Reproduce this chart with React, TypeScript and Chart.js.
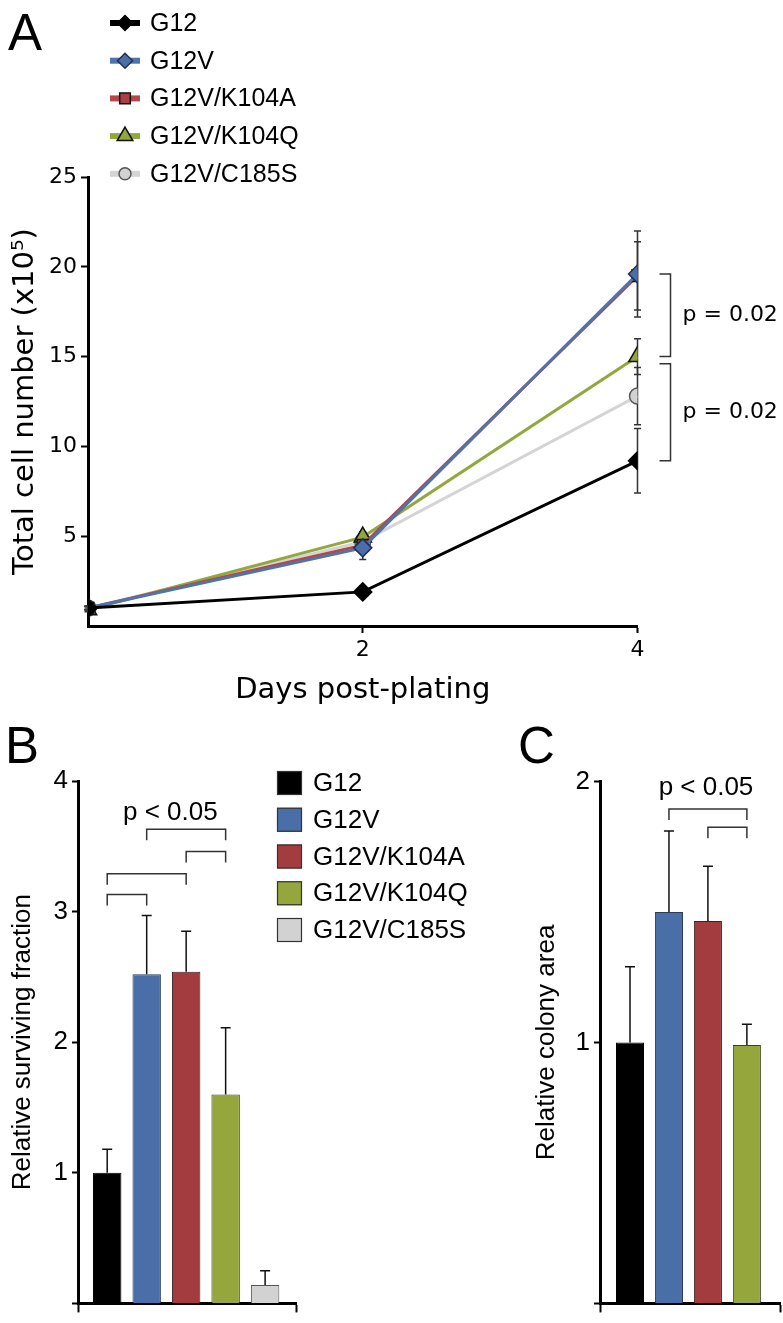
import React, { useEffect, useRef } from 'react';
import { Chart, registerables } from 'chart.js';

Chart.register(...registerables);

// ---------- Panel A: growth curves ----------
const days = [0, 2, 4];
const seriesNames = ['G12', 'G12V', 'G12V/K104A', 'G12V/K104Q', 'G12V/C185S'];
const g12Counts = [1.0, 1.9, 9.2];
const g12vCounts = [1.0, 4.35, 19.6];
const k104aCounts = [1.0, 4.5, 19.5];
const k104qCounts = [0.9, 4.95, 15.0];
const c185sCounts = [1.0, 4.7, 12.8];
const g12CountErr = [0.1, 0.2, 1.8];
const g12vCountErr = [0.1, 0.65, 2.4];
const k104aCountErr = [0.1, 0.4, 1.9];
const k104qCountErr = [0.1, 0.3, 1.0];
const c185sCountErr = [0.1, 0.3, 1.6];
const growthYTicks = [5, 10, 15, 20, 25];
const growthXTicks = [2, 4];
const growthBrackets = [
  { top: 19.6, bottom: 15.0, label: 'p = 0.02' },
  { top: 14.6, bottom: 9.2, label: 'p = 0.02' },
];

// ---------- Panel B: surviving fraction ----------
const survivalValues = [1.0, 2.52, 2.54, 1.6, 0.14];
const survivalErr = [0.18, 0.45, 0.31, 0.51, 0.11];
const survivalBrackets = [
  { from: 1, to: 3, y: 3.63 },
  { from: 2, to: 3, y: 3.46 },
  { from: 0, to: 2, y: 3.29 },
  { from: 0, to: 1, y: 3.13 },
];
const survivalP = { x: 1.6, y: 3.76, text: 'p < 0.05' };

// ---------- Panel C: colony area ----------
const colonyValues = [1.0, 1.5, 1.465, 0.99];
const colonyErr = [0.29, 0.31, 0.21, 0.08];
const colonyBrackets = [
  { from: 1, to: 3, y: 1.895 },
  { from: 2, to: 3, y: 1.825 },
];
const colonyP = { x: 1.95, y: 1.975, text: 'p < 0.05' };

// ---------- styles ----------
const lineColors = ['#000000', '#4f73ad', '#b4474a', '#93a83c', '#d4d4d4'];
const markerFills = ['#000000', '#4a6ea8', '#a93f42', '#93a63b', '#d2d2d2'];
const markerEdges = ['#000000', '#1f3050', '#111111', '#111111', '#555555'];
const markerShapes = ['rectRot', 'rectRot', 'rect', 'triangle', 'circle'];
const markerRadii = [9, 9, 8, 10, 8];
const legendRadii = [7.5, 7.5, 7.5, 9, 6];
const barFills = ['#000000', '#4a6ea8', '#a33c3e', '#94a63c', '#d2d2d2'];
const barEdges = ['#000000', '#2b3b55', '#3a2222', '#3b4220', '#555555'];

const FONT_A = 'DejaVu Sans';
const FONT_B = 'Liberation Sans';

function drawMarker(ctx, shape, x, y, r, fill, edge, bw) {
  ctx.save();
  ctx.beginPath();
  if (shape === 'rectRot') {
    ctx.moveTo(x - r, y);
    ctx.lineTo(x, y - r);
    ctx.lineTo(x + r, y);
    ctx.lineTo(x, y + r);
    ctx.closePath();
  } else if (shape === 'rect') {
    const s = r * Math.SQRT1_2;
    ctx.rect(x - s, y - s, 2 * s, 2 * s);
  } else if (shape === 'triangle') {
    const a = (2 * Math.PI) / 3;
    ctx.moveTo(x, y - r);
    ctx.lineTo(x + Math.sin(a) * r, y - Math.cos(a) * r);
    ctx.lineTo(x + Math.sin(2 * a) * r, y - Math.cos(2 * a) * r);
    ctx.closePath();
  } else {
    ctx.arc(x, y, r, 0, Math.PI * 2);
  }
  ctx.fillStyle = fill;
  ctx.fill();
  ctx.lineWidth = bw;
  ctx.strokeStyle = edge;
  ctx.stroke();
  ctx.restore();
}

function letterPlugin(letter, x, y) {
  return {
    id: 'letter' + letter,
    afterDraw(chart) {
      const ctx = chart.ctx;
      ctx.save();
      ctx.font = '51px "Liberation Sans"';
      ctx.fillStyle = '#000';
      ctx.textBaseline = 'alphabetic';
      ctx.textAlign = 'left';
      ctx.fillText(letter, x, y);
      ctx.restore();
    },
  };
}

const growthErrorPlugin = {
  id: 'growthErrors',
  beforeDatasetsDraw(chart) {
    const { ctx, scales } = chart;
    const xs = scales.x;
    const ys = scales.y;
    ctx.save();
    ctx.strokeStyle = '#333';
    ctx.lineWidth = 1.5;
    chart.data.datasets.forEach((ds) => {
      ds.data.forEach((p, j) => {
        const e = ds.errors[j];
        const px = xs.getPixelForValue(p.x);
        const t = ys.getPixelForValue(p.y + e);
        const b = ys.getPixelForValue(p.y - e);
        ctx.beginPath();
        ctx.moveTo(px, t);
        ctx.lineTo(px, b);
        ctx.moveTo(px - 3.5, t);
        ctx.lineTo(px + 3.5, t);
        ctx.moveTo(px - 3.5, b);
        ctx.lineTo(px + 3.5, b);
        ctx.stroke();
      });
    });
    ctx.restore();
  },
};

const growthBracketPlugin = {
  id: 'growthBrackets',
  afterDraw(chart) {
    const { ctx, scales } = chart;
    const xv = scales.x.getPixelForValue(days[days.length - 1]);
    const x0 = xv + 22;
    const x1 = xv + 33;
    ctx.save();
    ctx.strokeStyle = '#333';
    ctx.lineWidth = 1.5;
    ctx.fillStyle = '#000';
    ctx.font = `22px "${FONT_A}"`;
    ctx.textBaseline = 'middle';
    ctx.textAlign = 'left';
    growthBrackets.forEach((b) => {
      const yt = scales.y.getPixelForValue(b.top);
      const yb = scales.y.getPixelForValue(b.bottom);
      ctx.beginPath();
      ctx.moveTo(x0, yt);
      ctx.lineTo(x1, yt);
      ctx.lineTo(x1, yb);
      ctx.lineTo(x0, yb);
      ctx.stroke();
      ctx.fillText(b.label, x1 + 12, (yt + yb) / 2);
    });
    ctx.restore();
  },
};

const growthLegendPlugin = {
  id: 'growthLegend',
  afterDraw(chart) {
    const ctx = chart.ctx;
    ctx.save();
    chart.data.datasets.forEach((ds, i) => {
      const y = 23 + i * 37.7;
      ctx.strokeStyle = ds.borderColor;
      ctx.lineWidth = 6;
      ctx.beginPath();
      ctx.moveTo(110, y);
      ctx.lineTo(140, y);
      ctx.stroke();
      drawMarker(ctx, ds.pointStyle, 125, y, ds.legendRadius, ds.pointBackgroundColor, ds.pointBorderColor, 1.5);
      ctx.fillStyle = '#000';
      ctx.font = `25px "${FONT_B}"`;
      ctx.textBaseline = 'middle';
      ctx.textAlign = 'left';
      ctx.fillText(ds.label, 150, y + 1);
    });
    ctx.restore();
  },
};

const growthCounts = [g12Counts, g12vCounts, k104aCounts, k104qCounts, c185sCounts];
const growthErrs = [g12CountErr, g12vCountErr, k104aCountErr, k104qCountErr, c185sCountErr];

function makeGrowth() {
  return {
    type: 'line',
    data: {
      datasets: seriesNames.map((name, i) => ({
        label: name,
        data: days.map((d, j) => ({ x: d, y: growthCounts[i][j] })),
        errors: growthErrs[i],
        borderColor: lineColors[i],
        backgroundColor: markerFills[i],
        pointBackgroundColor: markerFills[i],
        pointBorderColor: markerEdges[i],
        pointBorderWidth: 1.5,
        pointStyle: markerShapes[i],
        pointRadius: markerRadii[i],
        legendRadius: legendRadii[i],
        borderWidth: 3,
        tension: 0,
      })),
    },
    options: {
      responsive: false,
      animation: false,
      layout: { padding: { top: 177, right: 783 - 637.5, left: 0, bottom: 0 } },
      plugins: { legend: { display: false }, tooltip: { enabled: false } },
      scales: {
        x: {
          type: 'linear',
          min: 0,
          max: 4,
          afterBuildTicks: (s) => {
            s.ticks = growthXTicks.map((v) => ({ value: v }));
          },
          ticks: {
            callback: (v) => String(v),
            font: { family: FONT_A, size: 22 },
            color: '#000',
            padding: 4,
            maxRotation: 0,
          },
          grid: { drawOnChartArea: false, tickLength: 7, tickWidth: 2, tickColor: '#000' },
          border: { color: '#000', width: 3 },
          title: {
            display: true,
            text: 'Days post-plating',
            font: { family: FONT_A, size: 29 },
            color: '#000',
            padding: { top: 0, bottom: 12 },
          },
          afterFit: (s) => {
            s.height = 94;
          },
        },
        y: {
          type: 'linear',
          min: 0,
          max: 25,
          afterBuildTicks: (s) => {
            s.ticks = growthYTicks.map((v) => ({ value: v }));
          },
          ticks: {
            callback: (v) => String(v),
            font: { family: FONT_A, size: 22 },
            color: '#000',
            padding: 4,
          },
          grid: { drawOnChartArea: false, tickLength: 7, tickWidth: 2, tickColor: '#000' },
          border: { color: '#000', width: 3 },
          title: {
            display: true,
            text: 'Total cell number (x10⁵)',
            font: { family: FONT_A, size: 29 },
            color: '#000',
            padding: { top: 8, bottom: 0 },
          },
          afterFit: (s) => {
            s.width = 88;
          },
        },
      },
    },
    plugins: [growthErrorPlugin, growthBracketPlugin, growthLegendPlugin, letterPlugin('A', 8, 50)],
  };
}

// ---------- bar helpers ----------
const barErrorPlugin = {
  id: 'barErrors',
  beforeDatasetsDraw(chart) {
    const { ctx, scales } = chart;
    ctx.save();
    ctx.strokeStyle = '#111';
    ctx.lineWidth = 1.5;
    chart.data.datasets.forEach((ds) => {
      ds.data.forEach((p, j) => {
        const px = scales.x.getPixelForValue(p.x);
        const b = scales.y.getPixelForValue(p.y);
        const t = scales.y.getPixelForValue(p.y + ds.errors[j]);
        ctx.beginPath();
        ctx.moveTo(px, b);
        ctx.lineTo(px, t);
        ctx.moveTo(px - 5, t);
        ctx.lineTo(px + 5, t);
        ctx.stroke();
      });
    });
    ctx.restore();
  },
};

function bracketPlugin(brackets, pText) {
  return {
    id: 'sigBrackets',
    afterDraw(chart) {
      const { ctx, scales } = chart;
      ctx.save();
      ctx.strokeStyle = '#333';
      ctx.lineWidth = 1.5;
      brackets.forEach((b) => {
        const xa = scales.x.getPixelForValue(b.from);
        const xb = scales.x.getPixelForValue(b.to);
        const y = scales.y.getPixelForValue(b.y);
        ctx.beginPath();
        ctx.moveTo(xa, y + 11);
        ctx.lineTo(xa, y);
        ctx.lineTo(xb, y);
        ctx.lineTo(xb, y + 11);
        ctx.stroke();
      });
      ctx.fillStyle = '#000';
      ctx.font = `26px "${FONT_B}"`;
      ctx.textAlign = 'center';
      ctx.textBaseline = 'middle';
      ctx.fillText(pText.text, scales.x.getPixelForValue(pText.x), scales.y.getPixelForValue(pText.y));
      ctx.restore();
    },
  };
}

const survivalLegendPlugin = {
  id: 'survivalLegend',
  afterDraw(chart) {
    const ctx = chart.ctx;
    const ds = chart.data.datasets[0];
    ctx.save();
    seriesNames.forEach((name, i) => {
      const top = 71 + i * 36.75;
      ctx.fillStyle = ds.backgroundColor[i];
      ctx.fillRect(277, top, 25, 24);
      ctx.strokeStyle = '#333';
      ctx.lineWidth = 1.2;
      ctx.strokeRect(277.5, top + 0.5, 24, 23);
      ctx.fillStyle = '#000';
      ctx.font = `26px "${FONT_B}"`;
      ctx.textAlign = 'left';
      ctx.textBaseline = 'middle';
      ctx.fillText(name, 313, top + 13);
    });
    ctx.restore();
  },
};

function makeBars({ values, errors, colors, edges, xMin, xMax, yMax, yAxisWidth, padTop, padRight, title, titlePad, extraPlugins }) {
  return {
    type: 'bar',
    data: {
      datasets: [
        {
          label: title,
          data: values.map((v, i) => ({ x: i, y: v })),
          errors,
          backgroundColor: colors,
          borderColor: edges,
          borderWidth: 1,
          borderSkipped: 'bottom',
          barPercentage: 0.72,
          categoryPercentage: 1,
        },
      ],
    },
    options: {
      responsive: false,
      animation: false,
      layout: { padding: { top: padTop, right: padRight, left: 0, bottom: 0 } },
      plugins: { legend: { display: false }, tooltip: { enabled: false } },
      scales: {
        x: {
          type: 'linear',
          min: xMin,
          max: xMax,
          offset: false,
          afterBuildTicks: (s) => {
            s.ticks = [{ value: xMin }, { value: xMax }];
          },
          ticks: { display: false },
          grid: { offset: false, drawOnChartArea: false, tickLength: 9, tickWidth: 2, tickColor: '#000' },
          border: { color: '#000', width: 3 },
          afterFit: (s) => {
            s.height = 6;
          },
        },
        y: {
          type: 'linear',
          min: 0,
          max: yMax,
          ticks: {
            stepSize: 1,
            callback: (v) => (v === 0 ? '' : String(v)),
            font: { family: FONT_B, size: 26 },
            color: '#000',
            padding: 4,
          },
          grid: { drawOnChartArea: false, tickLength: 6, tickWidth: 2, tickColor: '#000' },
          border: { color: '#000', width: 3 },
          title: {
            display: true,
            text: title,
            font: { family: FONT_B, size: 26 },
            color: '#000',
            padding: { top: titlePad, bottom: 0 },
          },
          afterFit: (s) => {
            s.width = yAxisWidth;
          },
        },
      },
    },
    plugins: [barErrorPlugin, ...extraPlugins],
  };
}

function makeSurvival() {
  return makeBars({
    values: survivalValues,
    errors: survivalErr,
    colors: barFills,
    edges: barEdges,
    xMin: -0.74,
    xMax: 4.8,
    yMax: 4,
    yAxisWidth: 78,
    padTop: 81,
    padRight: 500 - 296.7,
    title: 'Relative surviving fraction',
    titlePad: 7,
    extraPlugins: [bracketPlugin(survivalBrackets, survivalP), survivalLegendPlugin, letterPlugin('B', 5, 63)],
  });
}

function makeColony() {
  return makeBars({
    values: colonyValues,
    errors: colonyErr,
    colors: barFills.slice(0, 4),
    edges: barEdges.slice(0, 4),
    xMin: -0.77,
    xMax: 3.85,
    yMax: 2,
    yAxisWidth: 100,
    padTop: 81.5,
    padRight: 3,
    title: 'Relative colony area',
    titlePad: 31,
    extraPlugins: [bracketPlugin(colonyBrackets, colonyP), letterPlugin('C', 18, 63)],
  });
}

function ChartCanvas({ make, left, top, width, height }) {
  const ref = useRef(null);
  useEffect(() => {
    const chart = new Chart(ref.current, make());
    return () => chart.destroy();
  }, []);
  return (
    <canvas
      ref={ref}
      width={width}
      height={height}
      style={{ position: 'absolute', left, top, width, height, display: 'block' }}
    />
  );
}

export default function App() {
  return (
    <div
      style={{
        position: 'absolute',
        left: 0,
        top: 0,
        width: 783,
        height: 1323,
        overflow: 'hidden',
        background: '#fff',
      }}
    >
      <ChartCanvas make={makeGrowth} left={0} top={0} width={783} height={720} />
      <ChartCanvas make={makeSurvival} left={0} top={700} width={500} height={623} />
      <ChartCanvas make={makeColony} left={500} top={700} width={283} height={623} />
    </div>
  );
}
